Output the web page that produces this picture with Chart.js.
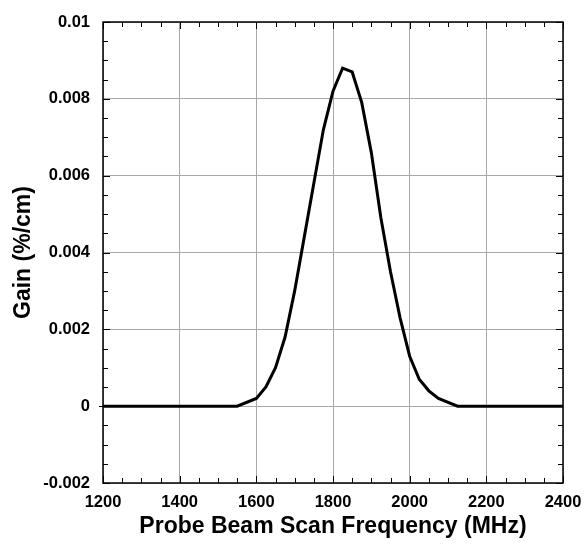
<!DOCTYPE html>
<html>
<head>
<meta charset="utf-8">
<script src="https://cdn.jsdelivr.net/npm/chart.js@4/dist/chart.umd.min.js"></script>
<style>
  html, body { margin: 0; padding: 0; background: #fff; }
  #wrap { width: 584px; height: 544px; }
</style>
</head>
<body>
<div id="wrap"><canvas id="c" width="584" height="544"></canvas></div>
<script>
// --- data ---
const freqMHz = [1200, 1550, 1600, 1625, 1650, 1675, 1700, 1725, 1750, 1775, 1800, 1825,
  1850, 1875, 1900, 1925, 1950, 1975, 2000, 2025, 2050, 2075, 2125, 2400];
const gain = [0, 0, 0.0002, 0.0005, 0.001, 0.0018, 0.003, 0.0044, 0.0058, 0.0072, 0.0082, 0.0088,
  0.0087, 0.0079, 0.0066, 0.0049, 0.0035, 0.0023, 0.0013, 0.0007, 0.0004, 0.0002, 0, 0];
const xTicks = [1200, 1400, 1600, 1800, 2000, 2200, 2400];
const yTicks = [-0.002, 0, 0.002, 0.004, 0.006, 0.008, 0.01];
const xMinorStep = 50;
const yMinorStep = 0.0005;

const FONT = "'Liberation Sans', Arial, Helvetica, sans-serif";
const fmtY = (v) => {
  if (Math.abs(v) < 1e-12) return '0';
  const r = Math.round(v * 1000) / 1000;
  return r === 0.01 ? '0.01' : r.toFixed(3);
};

// frame + inward ticks on all four sides
const frame = {
  id: 'frame',
  afterDraw(chart) {
    const { ctx, chartArea: a, scales } = chart;
    const sx = scales.x, sy = scales.y;
    ctx.save();
    ctx.strokeStyle = '#000';
    ctx.lineWidth = 1;
    ctx.beginPath();
    for (let v = xTicks[0]; v <= xTicks[xTicks.length - 1] + 1e-9; v += xMinorStep) {
      const px = Math.round(sx.getPixelForValue(v)) + 0.5;
      const len = xTicks.includes(v) ? 7 : 5;
      ctx.moveTo(px, a.bottom); ctx.lineTo(px, a.bottom - len);
      ctx.moveTo(px, a.top); ctx.lineTo(px, a.top + len);
    }
    const n = Math.round((yTicks[yTicks.length - 1] - yTicks[0]) / yMinorStep);
    for (let i = 0; i <= n; i++) {
      const v = yTicks[0] + i * yMinorStep;
      const py = Math.round(sy.getPixelForValue(v)) + 0.5;
      const len = i % 4 === 0 ? 7 : 5;
      ctx.moveTo(a.left, py); ctx.lineTo(a.left + len, py);
      ctx.moveTo(a.right, py); ctx.lineTo(a.right - len, py);
    }
    // small outward tick at zero
    const z = Math.round(sy.getPixelForValue(0)) + 0.5;
    ctx.moveTo(a.left - 4, z); ctx.lineTo(a.left, z);
    ctx.stroke();
    ctx.lineWidth = 1.5;
    ctx.strokeRect(a.left, a.top, a.right - a.left, a.bottom - a.top);
    ctx.restore();
  }
};

new Chart(document.getElementById('c'), {
  type: 'line',
  data: {
    datasets: [{
      data: freqMHz.map((f, i) => ({ x: f, y: gain[i] })),
      borderColor: '#000',
      borderWidth: 3,
      pointRadius: 0,
      tension: 0,
      fill: false,
    }],
  },
  options: {
    responsive: false,
    animation: false,
    events: [],
    layout: { padding: { left: 0, right: 21, top: 22, bottom: 0 } },
    plugins: { legend: { display: false }, tooltip: { enabled: false } },
    scales: {
      x: {
        type: 'linear',
        min: 1200, max: 2400,
        afterBuildTicks: (s) => { s.ticks = xTicks.map((v) => ({ value: v })); },
        afterFit: (s) => { s.height = 61; s.paddingLeft = 0; s.paddingRight = 0; },
        grid: { color: '#a8a8a8', lineWidth: 1, drawTicks: false },
        border: { display: false },
        ticks: {
          color: '#000', padding: 10,
          font: { family: FONT, size: 16.5, weight: 'bold' },
          maxRotation: 0,
          callback: (v) => String(v),
        },
        title: {
          display: true, text: 'Probe Beam Scan Frequency (MHz)', color: '#000',
          font: { family: FONT, size: 23, weight: 'bold' }, padding: { top: 0 },
        },
      },
      y: {
        min: -0.002, max: 0.01,
        afterBuildTicks: (s) => { s.ticks = yTicks.map((v) => ({ value: v })); },
        afterFit: (s) => { s.width = 103; s.paddingTop = 0; s.paddingBottom = 0; },
        grid: { color: '#a8a8a8', lineWidth: 1, drawTicks: false },
        border: { display: false },
        ticks: {
          color: '#000', padding: 13,
          font: { family: FONT, size: 16.5, weight: 'bold' },
          callback: (v) => fmtY(v),
        },
        title: {
          display: true, text: 'Gain (%/cm)', color: '#000',
          font: { family: FONT, size: 23, weight: 'bold' }, padding: { top: 10, bottom: 2 },
        },
      },
    },
  },
  plugins: [frame],
});
</script>
</body>
</html>
